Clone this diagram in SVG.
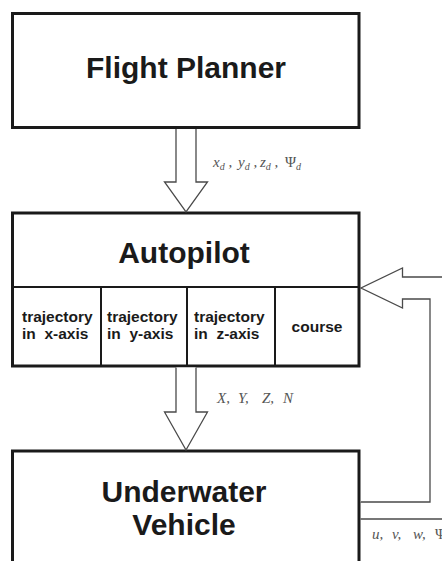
<svg xmlns="http://www.w3.org/2000/svg" width="442" height="561" viewBox="0 0 442 561">
<style>
.box{fill:#fff;stroke:#1a1a1a;stroke-width:3}
.div{fill:none;stroke:#1a1a1a;stroke-width:2}
.title{font-family:"Liberation Sans",Arial,sans-serif;font-weight:bold;font-size:30px;fill:#1a1a1a;text-anchor:middle}
.cell{font-family:"Liberation Sans",Arial,sans-serif;font-weight:bold;font-size:15.5px;fill:#1a1a1a;white-space:pre}
.conn{fill:#fff;stroke:#4a4a4a;stroke-width:1.3;stroke-linejoin:miter}
.lbl{font-family:"Liberation Serif","Times New Roman",serif;font-style:italic;font-size:15px;fill:#555;white-space:pre}
.sub{font-size:10px}
.up{font-style:normal}
</style>
<rect width="442" height="561" fill="#fff"/>
<g id="flight-planner">
<rect class="box" x="12.5" y="13.5" width="346.5" height="114"/>
<text class="title" x="186" y="78">Flight Planner</text>
</g>
<g id="autopilot">
<rect class="box" x="12.5" y="213" width="346.5" height="153"/>
<line class="div" x1="12.5" y1="287" x2="359" y2="287"/>
<line class="div" x1="101" y1="287" x2="101" y2="366"/>
<line class="div" x1="187" y1="287" x2="187" y2="366"/>
<line class="div" x1="275" y1="287" x2="275" y2="366"/>
<text class="title" x="184" y="263">Autopilot</text>
<text class="cell" x="22" y="322">trajectory</text>
<text class="cell" x="22" y="339">in  x-axis</text>
<text class="cell" x="107" y="322">trajectory</text>
<text class="cell" x="107" y="339">in  y-axis</text>
<text class="cell" x="194" y="322">trajectory</text>
<text class="cell" x="194" y="339">in  z-axis</text>
<text class="cell" x="317" y="332" text-anchor="middle">course</text>
</g>
<g id="underwater-vehicle">
<rect class="box" x="12.5" y="451" width="346.5" height="120"/>
<text class="title" x="184" y="502">Underwater</text>
<text class="title" x="184" y="535">Vehicle</text>
</g>
<g id="connectors">
<path class="conn" d="M176,129 V182 H164.5 L186,212 L207.5,182 H196 V129"/>
<path class="conn" d="M176,367.5 V412 H164.5 L186,450 L207.5,412 H196 V367.5"/>
<path class="conn" fill="none" d="M443,277 H402.5 V268 L361,288 L402.5,308 V299 H430 V502 H360.5"/>
<line class="conn" x1="360.5" y1="519" x2="443" y2="519"/>
<text class="lbl" y="167"><tspan x="213">x</tspan><tspan class="sub" dy="3">d</tspan><tspan dy="-3"> ,</tspan><tspan x="238">y</tspan><tspan class="sub" dy="3">d</tspan><tspan dy="-3"> ,</tspan><tspan x="260">z</tspan><tspan class="sub" dy="3">d</tspan><tspan dy="-3"> ,</tspan><tspan class="up" x="285">Ψ</tspan><tspan class="sub" dy="3">d</tspan></text>
<text class="lbl" y="403" font-size="16.5"><tspan x="217">X,</tspan><tspan x="238">Y,</tspan><tspan x="262">Z,</tspan><tspan x="283">N</tspan></text>
<text class="lbl" y="539"><tspan x="372">u,</tspan><tspan x="392">v,</tspan><tspan x="413">w,</tspan><tspan class="up" x="435">Ψ</tspan></text>
</g>
</svg>
